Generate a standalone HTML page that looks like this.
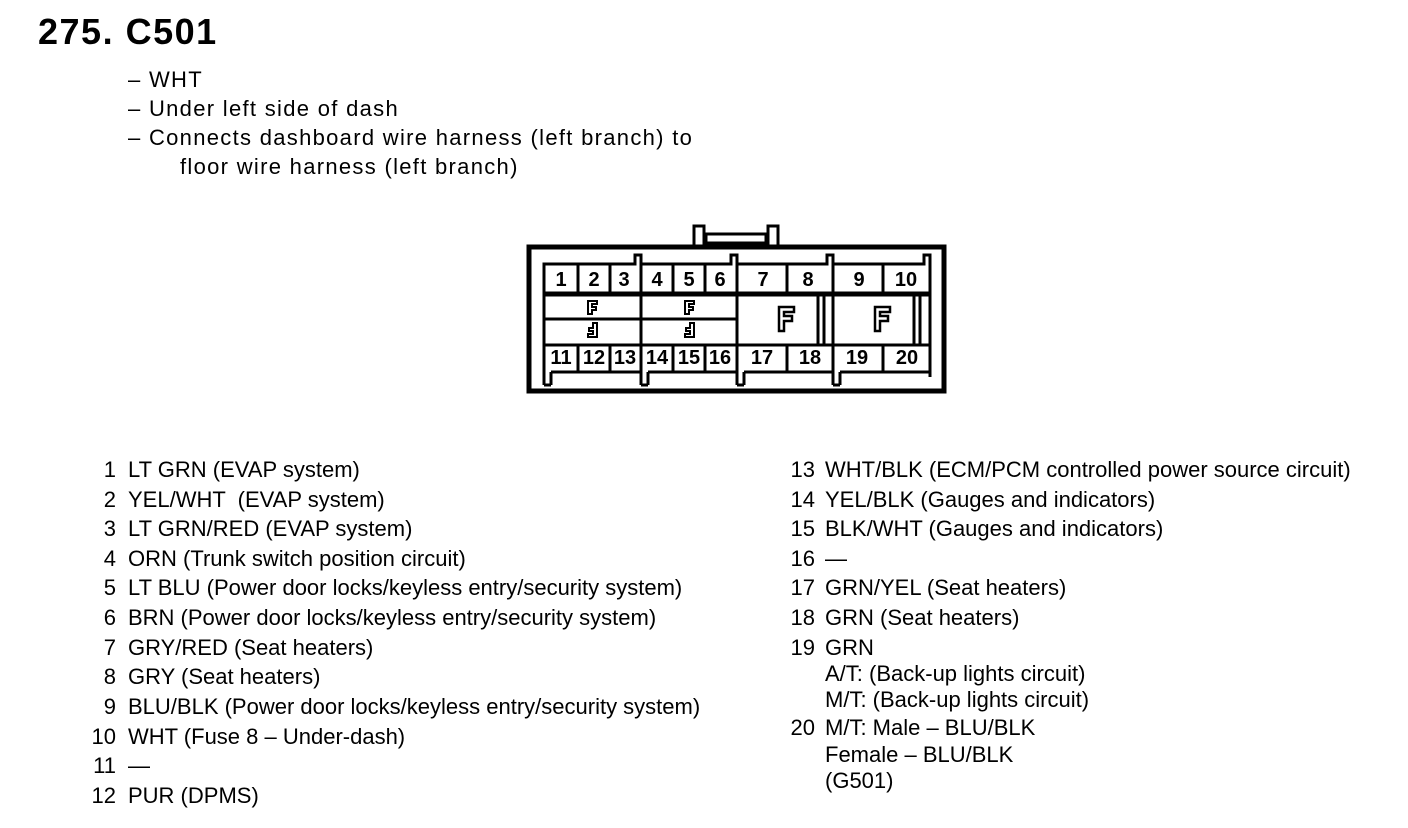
<!DOCTYPE html>
<html><head><meta charset="utf-8">
<style>
body{margin:0;width:1408px;height:828px;background:#fff;position:relative;overflow:hidden;font-family:"Liberation Sans",Arial,sans-serif;color:#000}
.t{position:absolute;font-size:22px;line-height:30px;white-space:pre}
.h{letter-spacing:1.3px}
.n{position:absolute;font-size:22px;line-height:30px;text-align:right;width:40px}
</style></head><body>
<div style="position:absolute;left:38px;top:10px;font-size:36px;font-weight:bold;line-height:44px;letter-spacing:1.5px">275. C501</div>
<div class="t h" style="left:128px;top:65px">– WHT</div>
<div class="t h" style="left:128px;top:94px">– Under left side of dash</div>
<div class="t h" style="left:128px;top:123px">– Connects dashboard wire harness (left branch) to</div>
<div class="t h" style="left:180px;top:152px">floor wire harness (left branch)</div>

<svg style="position:absolute;left:0;top:0" width="1408" height="828">
<g fill="none" stroke="#000">
<rect x="529" y="247" width="415" height="144" stroke-width="5"/>
<rect x="694" y="226" width="10" height="20" stroke-width="3" fill="#fff"/>
<rect x="768" y="226" width="10" height="20" stroke-width="3" fill="#fff"/>
<rect x="706" y="234" width="60" height="9" stroke-width="3"/>
<g stroke-width="3">
<polyline points="544,385 544,264 635,264 635,255 641,255 641,385"/>
<polyline points="641,264 641,264 731,264 731,255 737,255 737,385"/>
<polyline points="737,264 827,264 827,255 833,255 833,385"/>
<polyline points="833,264 924,264 924,255 930,255 930,377"/>
<line x1="544" y1="385" x2="551" y2="385"/><line x1="551" y1="385" x2="551" y2="372"/>
<line x1="641" y1="385" x2="648" y2="385"/><line x1="648" y1="385" x2="648" y2="372"/>
<line x1="737" y1="385" x2="744" y2="385"/><line x1="744" y1="385" x2="744" y2="372"/>
<line x1="833" y1="385" x2="840" y2="385"/><line x1="840" y1="385" x2="840" y2="372"/>
<line x1="551" y1="372" x2="641" y2="372"/><line x1="648" y1="372" x2="737" y2="372"/>
<line x1="744" y1="372" x2="833" y2="372"/><line x1="840" y1="372" x2="930" y2="372"/>
<line x1="544" y1="294" x2="930" y2="294" stroke-width="5"/>
<line x1="544" y1="345" x2="930" y2="345" stroke-width="3"/>
<line x1="544" y1="319" x2="737" y2="319"/>
<line x1="578" y1="264" x2="578" y2="294"/><line x1="610" y1="264" x2="610" y2="294"/>
<line x1="673" y1="264" x2="673" y2="294"/><line x1="705" y1="264" x2="705" y2="294"/>
<line x1="787" y1="264" x2="787" y2="294"/><line x1="883" y1="264" x2="883" y2="294"/>
<line x1="578" y1="345" x2="578" y2="372"/><line x1="610" y1="345" x2="610" y2="372"/>
<line x1="673" y1="345" x2="673" y2="372"/><line x1="705" y1="345" x2="705" y2="372"/>
<line x1="787" y1="345" x2="787" y2="372"/><line x1="883" y1="345" x2="883" y2="372"/>
<line x1="818" y1="296" x2="818" y2="345"/><line x1="824" y1="296" x2="824" y2="345"/>
<line x1="914" y1="296" x2="914" y2="345"/><line x1="920" y1="296" x2="920" y2="345"/>
<path d="M779,307 h15 v5 h-10 v4 h8 v5 h-8 v10 h-5 z" stroke-width="2.5"/>
<path d="M875,307 h15 v5 h-10 v4 h8 v5 h-8 v10 h-5 z" stroke-width="2.5"/>
<path d="M588,301 h9 v3 h-5 v3 h4 v3 h-4 v4 h-4 z" stroke-width="2"/>
<path d="M685,301 h9 v3 h-5 v3 h4 v3 h-4 v4 h-4 z" stroke-width="2"/>
<path d="M597,323 v14 h-9 v-3 h5 v-3 h-4 v-3 h4 v-5 z" stroke-width="2"/>
<path d="M694,323 v14 h-9 v-3 h5 v-3 h-4 v-3 h4 v-5 z" stroke-width="2"/>
</g></g>
<g font-family="Liberation Sans,Arial,sans-serif" font-size="20" font-weight="bold" text-anchor="middle">
<text x="561" y="286">1</text><text x="594" y="286">2</text><text x="624" y="286">3</text>
<text x="657" y="286">4</text><text x="689" y="286">5</text><text x="720" y="286">6</text>
<text x="763" y="286">7</text><text x="808" y="286">8</text><text x="859" y="286">9</text><text x="906" y="286">10</text>
<text x="561" y="364">11</text><text x="594" y="364">12</text><text x="625" y="364">13</text>
<text x="657" y="364">14</text><text x="689" y="364">15</text><text x="720" y="364">16</text>
<text x="762" y="364">17</text><text x="810" y="364">18</text><text x="857" y="364">19</text><text x="907" y="364">20</text>
</g>
</svg>

<div class="n" style="left:76px;top:455px">1</div><div class="t" style="left:128px;top:455px">LT GRN (EVAP system)</div>
<div class="n" style="left:76px;top:485px">2</div><div class="t" style="left:128px;top:485px">YEL/WHT  (EVAP system)</div>
<div class="n" style="left:76px;top:514px">3</div><div class="t" style="left:128px;top:514px">LT GRN/RED (EVAP system)</div>
<div class="n" style="left:76px;top:544px">4</div><div class="t" style="left:128px;top:544px">ORN (Trunk switch position circuit)</div>
<div class="n" style="left:76px;top:573px">5</div><div class="t" style="left:128px;top:573px">LT BLU (Power door locks/keyless entry/security system)</div>
<div class="n" style="left:76px;top:603px">6</div><div class="t" style="left:128px;top:603px">BRN (Power door locks/keyless entry/security system)</div>
<div class="n" style="left:76px;top:633px">7</div><div class="t" style="left:128px;top:633px">GRY/RED (Seat heaters)</div>
<div class="n" style="left:76px;top:662px">8</div><div class="t" style="left:128px;top:662px">GRY (Seat heaters)</div>
<div class="n" style="left:76px;top:692px">9</div><div class="t" style="left:128px;top:692px">BLU/BLK (Power door locks/keyless entry/security system)</div>
<div class="n" style="left:76px;top:722px">10</div><div class="t" style="left:128px;top:722px">WHT (Fuse 8 – Under-dash)</div>
<div class="n" style="left:76px;top:751px">11</div><div class="t" style="left:128px;top:751px">—</div>
<div class="n" style="left:76px;top:781px">12</div><div class="t" style="left:128px;top:781px">PUR (DPMS)</div>

<div class="n" style="left:775px;top:455px">13</div><div class="t" style="left:825px;top:455px">WHT/BLK (ECM/PCM controlled power source circuit)</div>
<div class="n" style="left:775px;top:485px">14</div><div class="t" style="left:825px;top:485px">YEL/BLK (Gauges and indicators)</div>
<div class="n" style="left:775px;top:514px">15</div><div class="t" style="left:825px;top:514px">BLK/WHT (Gauges and indicators)</div>
<div class="n" style="left:775px;top:544px">16</div><div class="t" style="left:825px;top:544px">—</div>
<div class="n" style="left:775px;top:573px">17</div><div class="t" style="left:825px;top:573px">GRN/YEL (Seat heaters)</div>
<div class="n" style="left:775px;top:603px">18</div><div class="t" style="left:825px;top:603px">GRN (Seat heaters)</div>
<div class="n" style="left:775px;top:633px">19</div><div class="t" style="left:825px;top:633px">GRN</div>
<div class="t" style="left:825px;top:659px">A/T: (Back-up lights circuit)</div>
<div class="t" style="left:825px;top:685px">M/T: (Back-up lights circuit)</div>
<div class="n" style="left:775px;top:713px">20</div><div class="t" style="left:825px;top:713px">M/T: Male – BLU/BLK</div>
<div class="t" style="left:825px;top:740px">Female – BLU/BLK</div>
<div class="t" style="left:825px;top:766px">(G501)</div>
</body></html>
